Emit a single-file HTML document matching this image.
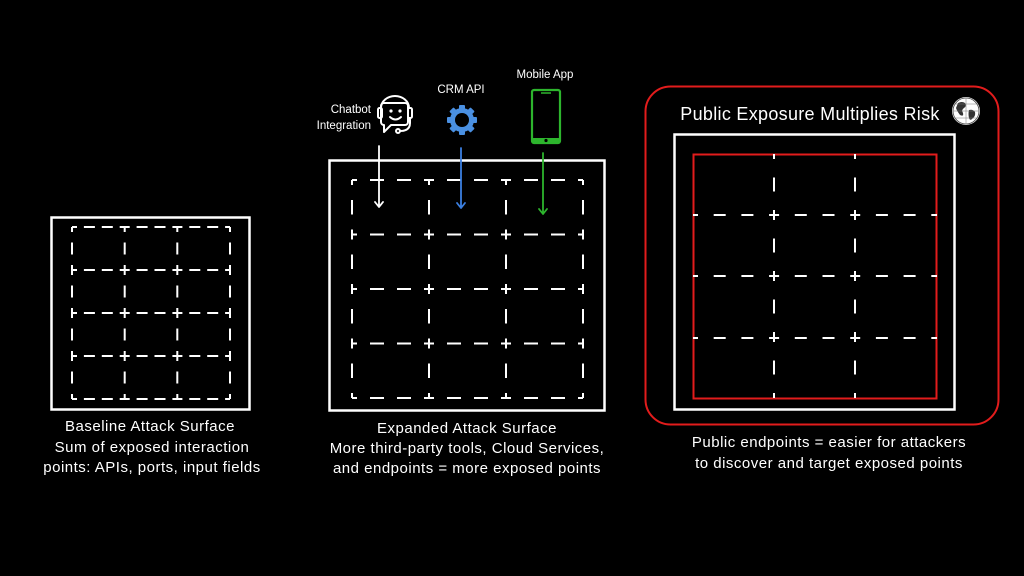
<!DOCTYPE html>
<html><head><meta charset="utf-8"><style>
html,body{margin:0;padding:0;background:#000;}
svg{display:block}
text{font-family:"Liberation Sans",sans-serif;fill:#fff}
.c{font-size:15px;letter-spacing:0.5px}
</style></head><body>
<svg width="1024" height="576" viewBox="0 0 1024 576" xmlns="http://www.w3.org/2000/svg">
<rect width="1024" height="576" fill="#000"/>

<!-- Box 1 -->
<rect x="51.5" y="217.5" width="198" height="192" fill="none" stroke="#fff" stroke-width="2.5"/>
<g stroke="#fff" stroke-width="2" fill="none">
  <g stroke-dasharray="10 6.9 11 6.9 11 6.9" stroke-dashoffset="5">
    <line x1="72" y1="227" x2="230" y2="227"/>
    <line x1="72" y1="270" x2="230" y2="270"/>
    <line x1="72" y1="313" x2="230" y2="313"/>
    <line x1="72" y1="356" x2="230" y2="356"/>
    <line x1="72" y1="399" x2="230" y2="399"/>
  </g>
  <g stroke-dasharray="10 10.5 12 10.5" stroke-dashoffset="5">
    <line x1="72" y1="227" x2="72" y2="399"/>
    <line x1="124.7" y1="227" x2="124.7" y2="399"/>
    <line x1="177.3" y1="227" x2="177.3" y2="399"/>
    <line x1="230" y1="227" x2="230" y2="399"/>
  </g>
</g>
<text class="c" x="150" y="431" text-anchor="middle">Baseline Attack Surface</text>
<text class="c" x="152" y="452" text-anchor="middle">Sum of exposed interaction</text>
<text class="c" x="152" y="472" text-anchor="middle">points: APIs, ports, input fields</text>

<!-- Box 2 -->
<rect x="329.5" y="160.5" width="275" height="250" fill="none" stroke="#fff" stroke-width="2.5"/>
<g stroke="#fff" stroke-width="2" fill="none">
  <g stroke-dasharray="10 13 14 13 14 13" stroke-dashoffset="5">
    <line x1="352" y1="180" x2="583" y2="180"/>
    <line x1="352" y1="234.5" x2="583" y2="234.5"/>
    <line x1="352" y1="289" x2="583" y2="289"/>
    <line x1="352" y1="343.5" x2="583" y2="343.5"/>
    <line x1="352" y1="398" x2="583" y2="398"/>
  </g>
  <g stroke-dasharray="10 15 14.5 15" stroke-dashoffset="5">
    <line x1="352" y1="180" x2="352" y2="398"/>
    <line x1="429" y1="180" x2="429" y2="398"/>
    <line x1="506" y1="180" x2="506" y2="398"/>
    <line x1="583" y1="180" x2="583" y2="398"/>
  </g>
</g>
<text class="c" x="467" y="433" text-anchor="middle">Expanded Attack Surface</text>
<text class="c" x="467" y="453" text-anchor="middle">More third-party tools, Cloud Services,</text>
<text class="c" x="467" y="473" text-anchor="middle">and endpoints = more exposed points</text>

<!-- icons -->
<text x="371" y="113" font-size="11.5" text-anchor="end">Chatbot</text>
<text x="371" y="129" font-size="11.5" text-anchor="end">Integration</text>
<text x="461" y="93" font-size="11.5" text-anchor="middle">CRM API</text>
<text x="545" y="78" font-size="11.5" text-anchor="middle">Mobile App</text>

<!-- chatbot -->
<g stroke="#fff" stroke-width="2" fill="none" stroke-linejoin="round" stroke-linecap="round">
  <path d="M385 103 h20 a3 3 0 0 1 3 3 v16 a3 3 0 0 1 -3 3 h-14 l-7 7 v-7 a3 3 0 0 1 -3 -3 v-16 a3 3 0 0 1 3 -3 z"/>
  <path d="M381 108 a14 12 0 0 1 28 0"/>
  <rect x="378" y="108" width="4" height="10" rx="1.5"/>
  <rect x="408" y="108" width="4" height="10" rx="1.5"/>
  <path d="M410 118 v5 q0 8 -10 8"/>
  <circle cx="398" cy="131" r="2"/>
  <path d="M390 117 q5.5 5 11 0"/>
</g>
<circle cx="391" cy="111" r="1.6" fill="#fff"/>
<circle cx="400" cy="111" r="1.6" fill="#fff"/>

<!-- gear -->
<g fill="#4a90e2">
  <g transform="translate(462,120)">
    <rect x="-3" y="-15" width="6" height="30" rx="1"/>
    <rect x="-3" y="-15" width="6" height="30" rx="1" transform="rotate(45)"/>
    <rect x="-3" y="-15" width="6" height="30" rx="1" transform="rotate(90)"/>
    <rect x="-3" y="-15" width="6" height="30" rx="1" transform="rotate(135)"/>
    <circle r="12"/>
    <circle r="7" fill="#000"/>
  </g>
</g>

<!-- phone -->
<rect x="532" y="90" width="28" height="53" rx="2" fill="none" stroke="#2db52d" stroke-width="2.2"/>
<rect x="532" y="138" width="28" height="5" fill="#2db52d"/>
<line x1="541" y1="93" x2="551" y2="93" stroke="#2db52d" stroke-width="1.5"/>
<circle cx="546" cy="140.5" r="1.6" fill="#000"/>

<!-- arrows -->
<g fill="none" stroke-width="1.8" stroke-linecap="round" stroke-linejoin="round">
  <path d="M379 146 V207 M375 202 L379 207 L383 202" stroke="#fff"/>
  <path d="M461 148 V208 M457 203 L461 208 L465 203" stroke="#3b7fe0"/>
  <path d="M543 153 V214 M539 209 L543 214 L547 209" stroke="#2db52d"/>
</g>

<!-- Box 3 -->
<rect x="645.5" y="86.5" width="353" height="338" rx="25" fill="none" stroke="#e21c1c" stroke-width="2"/>
<text x="810" y="120" font-size="18" text-anchor="middle" letter-spacing="0.3">Public Exposure Multiplies Risk</text>
<!-- globe -->
<g transform="translate(966,111)">
  <circle r="14" fill="#fff"/>
  <circle r="13" fill="none" stroke="#444" stroke-width="0.8"/>
  <path d="M-8 -8 q4 -2 7 0 q2 3 -1 5 q-3 2 -1 5 q1 4 -3 2 q-3 -4 -4 -7 z" fill="#333"/>
  <path d="M3 -1 q4 -1 6 2 q1 4 -3 7 q-2 2 -3 -1 q-1 -4 0 -8 z" fill="#333"/>
  <path d="M-13 0 h26 M0 -13 v26 M-11 -7 h22 M-11 7 h22" stroke="#777" stroke-width="0.5" fill="none"/>
</g>
<rect x="674.5" y="134.5" width="280" height="275" fill="none" stroke="#fff" stroke-width="2.5"/>
<rect x="693.5" y="154.5" width="243" height="244" fill="none" stroke="#e21c1c" stroke-width="2"/>
<g stroke="#fff" stroke-width="2" fill="none">
  <g stroke-dasharray="10 15.7 12 15.7 12 15.7" stroke-dashoffset="5">
    <line x1="693" y1="215" x2="937" y2="215"/>
    <line x1="693" y1="276" x2="937" y2="276"/>
    <line x1="693" y1="338" x2="937" y2="338"/>
  </g>
  <g stroke-dasharray="10 18.5 14 18.5" stroke-dashoffset="5">
    <line x1="774" y1="154" x2="774" y2="398"/>
    <line x1="855" y1="154" x2="855" y2="398"/>
  </g>
</g>
<text class="c" x="829" y="447" text-anchor="middle" letter-spacing="0.9">Public endpoints = easier for attackers</text>
<text class="c" x="829" y="468" text-anchor="middle" letter-spacing="0.9">to discover and target exposed points</text>
</svg>
</body></html>
